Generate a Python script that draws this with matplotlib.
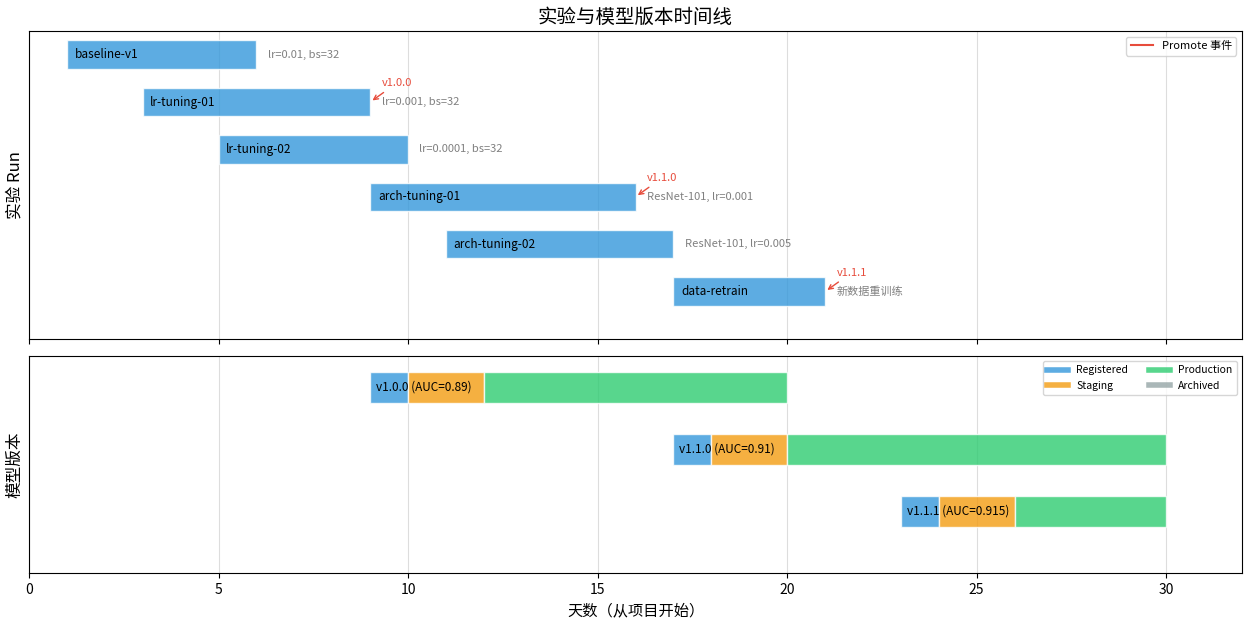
import matplotlib
matplotlib.use("Agg")
import matplotlib.pyplot as plt
from matplotlib.lines import Line2D

plt.rcParams['font.family'] = ['Noto Sans CJK SC', 'DejaVu Sans']
plt.rcParams['axes.unicode_minus'] = False

# Runs
run_names = ["baseline-v1", "lr-tuning-01", "lr-tuning-02", "arch-tuning-01", "arch-tuning-02", "data-retrain"]
run_start = [1, 3, 5, 9, 11, 17]
run_end = [6, 9, 10, 16, 17, 21]
run_notes = ["lr=0.01, bs=32", "lr=0.001, bs=32", "lr=0.0001, bs=32",
             "ResNet-101, lr=0.001", "ResNet-101, lr=0.005", "新数据重训练"]
# promote events: run index -> version
promote_runs = [1, 3, 5]
promote_versions = ["v1.0.0", "v1.1.0", "v1.1.1"]

# Model versions
versions = ["v1.0.0", "v1.1.0", "v1.1.1"]
aucs = ["0.89", "0.91", "0.915"]
registered = [(9, 10), (17, 18), (23, 24)]
staging = [(10, 12), (18, 20), (24, 26)]
production = [(12, 20), (20, 30), (26, 30)]

stage_names = ["Registered", "Staging", "Production", "Archived"]
stage_colors = ["#3498db", "#f39c12", "#2ecc71", "#95a5a6"]

fig = plt.figure(figsize=(12.51, 6.21), dpi=100)
ax1 = fig.add_axes([0.0232, 0.4541, 0.9696, 0.4960])
ax2 = fig.add_axes([0.0232, 0.0773, 0.9696, 0.3494], sharex=ax1)

# Top panel
for i, (n, s, e, note) in enumerate(zip(run_names, run_start, run_end, run_notes)):
    ax1.barh(i, e - s, left=s, height=0.6, color="#3498db", alpha=0.8, edgecolor="white")
    ax1.text(s + 0.2, i, n, va="center", ha="left", fontsize=8.5, color="black")
    ax1.text(e + 0.3, i, note, va="center", ha="left", fontsize=8, color="gray")
for ri, v in zip(promote_runs, promote_versions):
    e = run_end[ri]
    ax1.annotate(v, xy=(e, ri), xytext=(e + 0.3, ri - 0.4), fontsize=8, color="#e74c3c",
                 va="center", ha="left",
                 arrowprops=dict(arrowstyle="->", color="#e74c3c", lw=1))
ax1.set_ylim(len(run_names), -0.5)
ax1.set_yticks([])
ax1.set_ylabel("实验 Run", fontsize=12)
ax1.grid(axis="x", color="#dddddd", lw=0.8)
ax1.set_axisbelow(True)
ax1.legend(handles=[Line2D([0], [0], color="#e74c3c", lw=1.5, label="Promote 事件")],
           loc="upper right", fontsize=8)
ax1.set_title("实验与模型版本时间线", fontsize=14)
plt.setp(ax1.get_xticklabels(), visible=False)

# Bottom panel
for i, v in enumerate(versions):
    for seg, c in zip([registered[i], staging[i], production[i]], stage_colors[:3]):
        ax2.barh(i, seg[1] - seg[0], left=seg[0], height=0.5, color=c, alpha=0.8, edgecolor="white")
    ax2.text(registered[i][0] + 0.15, i, f"{v} (AUC={aucs[i]})", va="center", ha="left", fontsize=8.5)
ax2.set_ylim(len(versions), -0.5)
ax2.set_yticks([])
ax2.set_ylabel("模型版本", fontsize=12)
ax2.grid(axis="x", color="#dddddd", lw=0.8)
ax2.set_axisbelow(True)
handles = [Line2D([0], [0], color=c, lw=4, alpha=0.8, label=n) for n, c in zip(stage_names, stage_colors)]
ax2.legend(handles=handles, loc="upper right", ncol=2, fontsize=7.5)
ax2.set_xlim(0, 32)
ax2.set_xlabel("天数（从项目开始）", fontsize=11)

fig.savefig("out.png", dpi=100)
